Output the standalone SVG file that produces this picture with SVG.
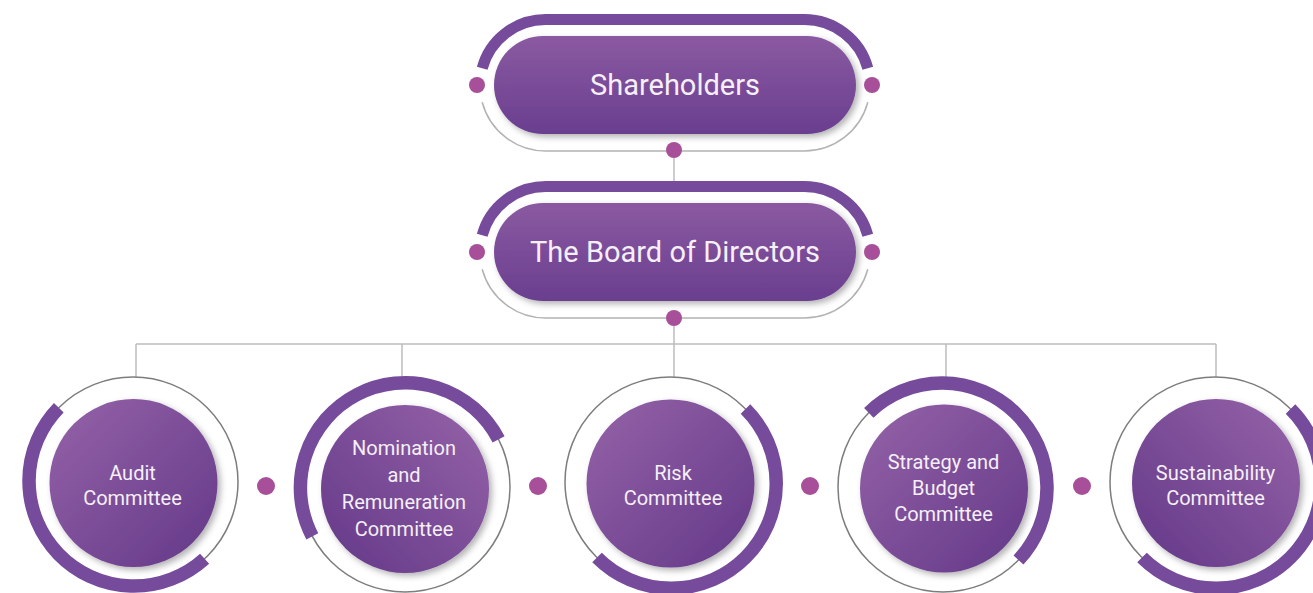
<svg xmlns="http://www.w3.org/2000/svg" width="1313" height="593" viewBox="0 0 1313 593">
<defs>
<linearGradient id="gPill" x1="0" y1="0" x2="0" y2="1">
<stop offset="0" stop-color="#8a5aa1"/>
<stop offset="1" stop-color="#6a3e8f"/>
</linearGradient>
<linearGradient id="gCircA" x1="0" y1="0" x2="1" y2="1">
<stop offset="0" stop-color="#9563a8"/>
<stop offset="1" stop-color="#633888"/>
</linearGradient>
<linearGradient id="gCircB" x1="1" y1="0" x2="0" y2="1">
<stop offset="0" stop-color="#9563a8"/>
<stop offset="1" stop-color="#633888"/>
</linearGradient>
<filter id="sh" x="-20%" y="-20%" width="150%" height="150%">
<feDropShadow dx="3" dy="3" stdDeviation="3" flood-color="#000" flood-opacity="0.3"/>
</filter>
</defs>
<style>
.band{fill:none;stroke:#774b9b;stroke-width:11}
.cband{fill:none;stroke:#774b9b;stroke-width:13.5}
.garc{fill:none;stroke:#b3b3b3;stroke-width:1.5}
.gring{fill:none;stroke:#7d7d7d;stroke-width:1.5}
.conn{fill:none;stroke:#bdbdbd;stroke-width:1.5}
.dot{fill:#a84f99}
.t1{font-family:Roboto,"Noto Sans",sans-serif;font-size:29px;fill:#f5eff7;text-anchor:middle}
.t2{font-family:Roboto,"Noto Sans",sans-serif;font-size:20px;fill:#f5eff7;text-anchor:middle}
</style>
<g id="connectors">
<line class="conn" x1="674" y1="150" x2="674" y2="186"/>
<line class="conn" x1="674" y1="318" x2="674" y2="344"/>
<line class="conn" x1="136" y1="344" x2="1216" y2="344"/>
<line class="conn" x1="136" y1="344" x2="136" y2="377"/>
<line class="conn" x1="402" y1="344" x2="402" y2="377"/>
<line class="conn" x1="674" y1="344" x2="674" y2="377"/>
<line class="conn" x1="946" y1="344" x2="946" y2="377"/>
<line class="conn" x1="1216" y1="344" x2="1216" y2="377"/>
</g>
<g id="shareholders">
<path class="band" d="M482.2,68.2 A65.75,65.75 0 0 1 545.75,19.5 L804.25,19.5 A65.75,65.75 0 0 1 867.8,68.2"/>
<path class="garc" d="M482.2,102.3 A65.75,65.75 0 0 0 545.75,151 L804.25,151 A65.75,65.75 0 0 0 867.8,102.3"/>
<rect x="494" y="36" width="362" height="98" rx="49" fill="url(#gPill)" filter="url(#sh)"/>
<circle class="dot" cx="477" cy="85" r="8"/>
<circle class="dot" cx="872" cy="85" r="8"/>
<circle class="dot" cx="674" cy="150" r="8"/>
<text class="t1" x="675" y="95">Shareholders</text>
</g>
<g id="board">
<path class="band" d="M482.2,235.2 A65.75,65.75 0 0 1 545.75,186.5 L804.25,186.5 A65.75,65.75 0 0 1 867.8,235.2"/>
<path class="garc" d="M482.2,269.3 A65.75,65.75 0 0 0 545.75,318 L804.25,318 A65.75,65.75 0 0 0 867.8,269.3"/>
<rect x="494" y="203" width="362" height="98" rx="49" fill="url(#gPill)" filter="url(#sh)"/>
<circle class="dot" cx="477" cy="252" r="8"/>
<circle class="dot" cx="872" cy="252" r="8"/>
<circle class="dot" cx="674" cy="318" r="8"/>
<text class="t1" x="675" y="262">The Board of Directors</text>
</g>
<g id="audit">
<circle class="gring" cx="133" cy="482" r="105"/>
<path class="cband" d="M204.6,558.8 A105,105 0 0 1 58.8,407.8"/>
<circle cx="133.5" cy="483" r="84" fill="url(#gCircA)" filter="url(#sh)"/>
<text class="t2" x="132.5" y="480">Audit</text>
<text class="t2" x="132.5" y="505">Committee</text>
</g>
<g id="nomination">
<circle class="gring" cx="405" cy="487" r="105"/>
<path class="cband" d="M312.3,536.3 A105,105 0 1 1 498.6,439.3"/>
<circle cx="405" cy="489" r="84" fill="url(#gCircB)" filter="url(#sh)"/>
<text class="t2" x="404" y="455">Nomination</text>
<text class="t2" x="404" y="482">and</text>
<text class="t2" x="404" y="509">Remuneration</text>
<text class="t2" x="404" y="536">Committee</text>
</g>
<g id="risk">
<circle class="gring" cx="670" cy="482" r="105"/>
<path class="cband" d="M745.5,409 A105,105 0 0 1 597,557.5"/>
<circle cx="670.5" cy="483.5" r="84" fill="url(#gCircA)" filter="url(#sh)"/>
<text class="t2" x="673" y="480">Risk</text>
<text class="t2" x="673" y="505">Committee</text>
</g>
<g id="strategy">
<circle class="gring" cx="943" cy="487" r="105"/>
<path class="cband" d="M868.8,412.8 A105,105 0 0 1 1018.5,560"/>
<circle cx="944" cy="488.5" r="84" fill="url(#gCircA)" filter="url(#sh)"/>
<text class="t2" x="943.5" y="469">Strategy and</text>
<text class="t2" x="943.5" y="495">Budget</text>
<text class="t2" x="943.5" y="521">Committee</text>
</g>
<g id="sustainability">
<circle class="gring" cx="1215" cy="482" r="105"/>
<path class="cband" d="M1290.5,409 A105,105 0 0 1 1142,557.5"/>
<circle cx="1216" cy="483" r="84" fill="url(#gCircB)" filter="url(#sh)"/>
<text class="t2" x="1215.5" y="480">Sustainability</text>
<text class="t2" x="1215.5" y="505">Committee</text>
</g>
<g id="separators">
<circle class="dot" cx="266" cy="486" r="9"/>
<circle class="dot" cx="538" cy="486" r="9"/>
<circle class="dot" cx="810" cy="486" r="9"/>
<circle class="dot" cx="1082" cy="486" r="9"/>
</g>
</svg>
